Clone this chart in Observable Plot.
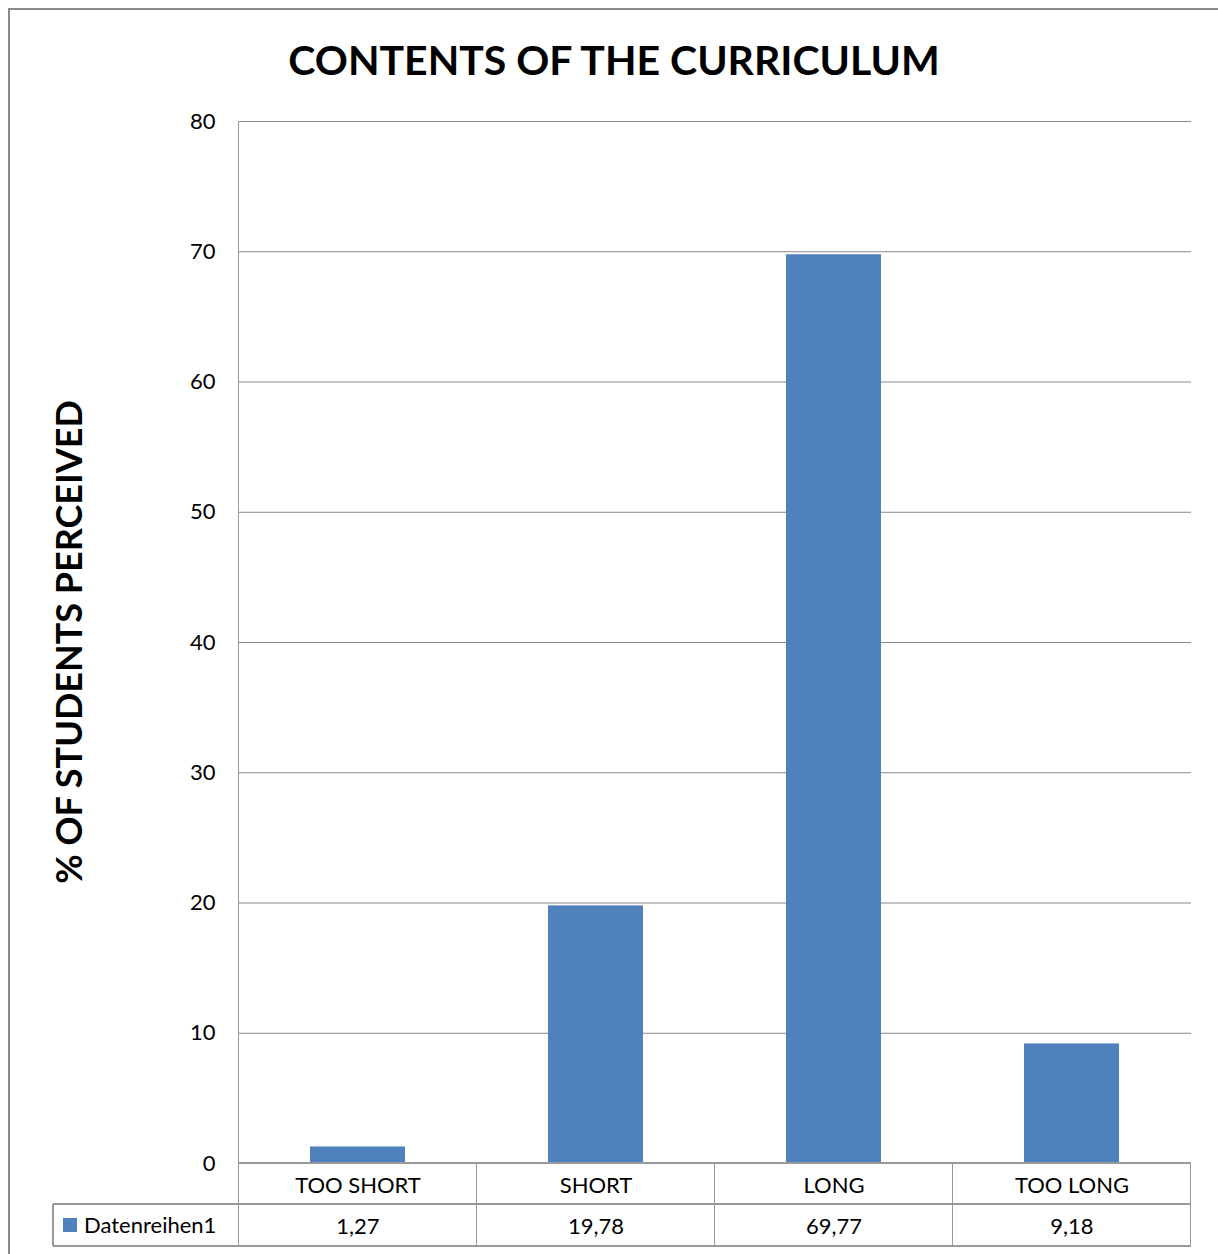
<!DOCTYPE html>
<html><head><meta charset="utf-8">
<script src="https://cdn.jsdelivr.net/npm/d3@7"></script>
<script src="https://cdn.jsdelivr.net/npm/@observablehq/plot@0.6"></script>
<style>
body{margin:0;background:#fff;}
#wrap{position:relative;width:1218px;height:1254px;overflow:hidden;font-family:Lato,sans-serif;}
#frame{position:absolute;left:8px;top:8px;width:1400px;height:1400px;border-left:2px solid #8a8a8a;border-top:2px solid #8a8a8a;}
#chart{position:absolute;left:0;top:0;}
</style></head><body>
<div id="wrap"><div id="frame"></div><div id="chart"></div></div>
<script>
const title = "CONTENTS OF THE CURRICULUM";
const yLabel = "% OF STUDENTS PERCEIVED";
const seriesName = "Datenreihen1";
const categories = ["TOO SHORT","SHORT","LONG","TOO LONG"];
const values = [1.27, 19.78, 69.77, 9.18];
const valueLabels = ["1,27","19,78","69,77","9,18"];
const yTicks = [0,10,20,30,40,50,60,70,80];

const data = categories.map((c,i)=>({category:c, value:values[i], label:valueLabels[i]}));
const barColor = "#4F81BD";
const gridColor = "#888888";
const tableColor = "#999999";
const font = "Lato, 'Open Sans', sans-serif";

const chart = Plot.plot({
  width:1218, height:1254,
  marginLeft:239, marginRight:27, marginTop:121, marginBottom:91,
  style:{fontFamily:font, background:"transparent", color:"#000", overflow:"visible"},
  x:{domain:categories, paddingInner:0.6, paddingOuter:0.3, label:null},
  y:{domain:[0,80], label:null},
  marks:[
    Plot.ruleY(yTicks, {stroke:gridColor, strokeWidth:1}),
    Plot.barY(data, {x:"category", y:"value", fill:barColor}),
    Plot.axisY(yTicks, {tickSize:0, tickPadding:24, fontSize:22, label:null}),
    Plot.axisX({tickSize:0, tickPadding:14, fontSize:22, label:null}),
    Plot.text(data, {x:"category", text:"label", frameAnchor:"bottom", dy:70, lineAnchor:"bottom", fontSize:22, fill:"#000"})
  ]
});
document.getElementById("chart").appendChild(chart);

const xs = chart.scale("x"), ys = chart.scale("y");
const svg = d3.select(chart);

// title and y-axis label
svg.append("text").attr("x", 614).attr("y", 75).attr("text-anchor", "middle")
  .attr("font-size", 41).attr("font-weight", "bold").attr("font-family", font).attr("fill", "#000").text(title);
const yMid = (ys.apply(0) + ys.apply(80)) / 2;
svg.append("text").attr("transform", `translate(82,${yMid}) rotate(-90)`).attr("text-anchor", "middle")
  .attr("font-size", 36).attr("font-weight", "bold").attr("font-family", font).attr("fill", "#000").text(yLabel);

// data table grid drawn from the Plot scales
const g = svg.append("g").attr("stroke", tableColor).attr("stroke-width", 1.5).attr("shape-rendering","crispEdges");
const y0 = ys.apply(0), row1 = y0 + 41, row2 = y0 + 83;
const half = (xs.step - xs.bandwidth) / 2;
const edges = categories.map(c => xs.apply(c) - half);
edges.push(xs.apply(categories[categories.length-1]) + xs.bandwidth + half);
const legendLeft = 53;
const right = edges[edges.length-1];
g.append("line").attr("x1", edges[0]).attr("x2", edges[0]).attr("y1", ys.apply(80)).attr("y2", row2);
edges.slice(1).forEach(e => g.append("line").attr("x1", e).attr("x2", e).attr("y1", y0).attr("y2", row2));
g.append("line").attr("x1", edges[0]).attr("x2", right).attr("y1", y0).attr("y2", y0);
g.append("line").attr("x1", legendLeft).attr("x2", right).attr("y1", row1).attr("y2", row1);
g.append("line").attr("x1", legendLeft).attr("x2", right).attr("y1", row2).attr("y2", row2);
g.append("line").attr("x1", legendLeft).attr("x2", legendLeft).attr("y1", row1).attr("y2", row2);
svg.append("rect").attr("x", legendLeft + 10).attr("y", row1 + 14).attr("width", 14).attr("height", 14).attr("fill", barColor);
svg.append("text").attr("x", legendLeft + 31).attr("y", row1 + 29).attr("text-anchor", "start")
  .attr("font-size", 22).attr("font-family", font).attr("fill", "#000").text(seriesName);
</script>
</body></html>
